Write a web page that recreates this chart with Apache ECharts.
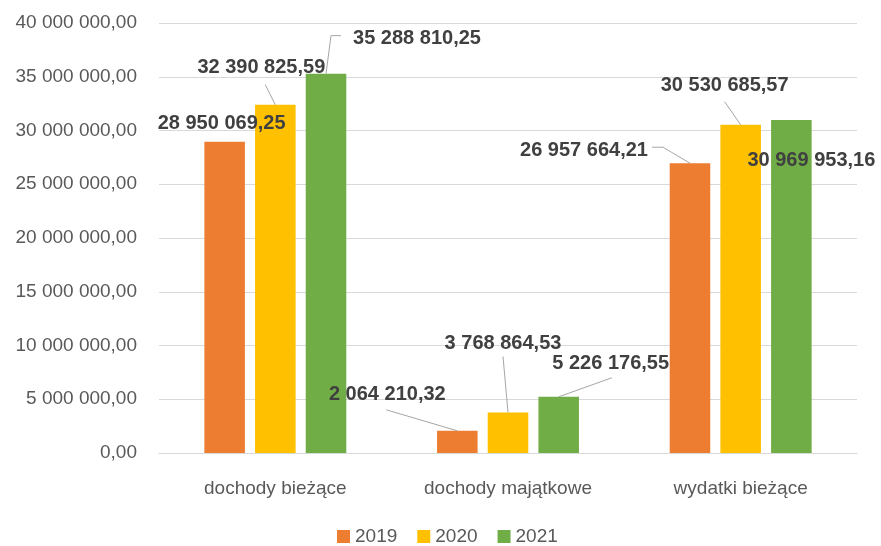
<!DOCTYPE html>
<html>
<head>
<meta charset="utf-8">
<script src="https://cdn.jsdelivr.net/npm/echarts@6/dist/echarts.min.js"></script>
<style>
html,body{margin:0;padding:0;background:#fff;}
#chart{width:881px;height:546px;}
</style>
</head>
<body>
<div id="chart"></div>
<script>
var categories = ['dochody bieżące', 'dochody majątkowe', 'wydatki bieżące'];
var seriesNames = ['2019', '2020', '2021'];
var values2019 = [28950069.25, 2064210.32, 26957664.21];
var values2020 = [32390825.59, 3768864.53, 30530685.57];
var values2021 = [35288810.25, 5226176.55, 30969953.16];
var yTicks = [0, 5000000, 10000000, 15000000, 20000000, 25000000, 30000000, 35000000, 40000000];

function fmt(v) {
  var s = v.toFixed(2).split('.');
  var intPart = s[0].replace(/\B(?=(\d{3})+(?!\d))/g, ' ');
  return intPart + ',' + s[1];
}

var BAR_GAP = 0.25, CAT_GAP = 0.39;

// label offsets relative to default "top" label position [seriesIndex][dataIndex]
var labelOffsets = [
  [[-3, -3], [-70, -21], [-106, 2]],
  [[-14, -22], [-5, -54], [-16, -24]],
  [[91, -20], [52, -18], [20, 55]]
];
// leader line bends, relative to the top centre of each bar [seriesIndex][dataIndex]
var leaderLines = [
  [null, [[-71, -21]], [[-27, -16], [-38, -16]]],
  [[[-10, -20]], [[-5, -56]], [[-16, -23]]],
  [[[5, -38], [15, -38]], [[53, -19]], null]
];

var colors = ['#ED7D31', '#FFC000', '#70AD47'];
var allValues = [values2019, values2020, values2021];

var series = allValues.map(function (vals, si) {
  return {
    name: seriesNames[si],
    type: 'bar',
    barGap: (BAR_GAP * 100) + '%',
    barCategoryGap: (CAT_GAP * 100) + '%',
    itemStyle: { color: colors[si] },
    data: vals,
    z: 2,
    label: {
      show: true,
      position: 'top',
      distance: 5,
      color: '#404040',
      fontWeight: 'bold',
      fontSize: 20,
      fontFamily: 'Liberation Sans',
      formatter: function (p) { return fmt(p.value); }
    },
    labelLayout: function (params) {
      var o = labelOffsets[params.seriesIndex][params.dataIndex];
      return { dx: o[0], dy: o[1] };
    }
  };
});

// leader lines drawn from the bar tops through the axis scales
var leaderData = [];
allValues.forEach(function (vals, si) {
  vals.forEach(function (v, di) {
    if (leaderLines[si][di]) leaderData.push([di, v, si]);
  });
});
series.push({
  type: 'custom',
  name: 'leaders',
  silent: true,
  z: 3,
  data: leaderData,
  encode: { x: 0, y: 1 },
  renderItem: function (params, api) {
    var di = api.value(0), v = api.value(1), si = api.value(2);
    var band = api.size([1, 0])[0];
    var n = 3;
    var w = band * (1 - CAT_GAP) / (n + (n - 1) * BAR_GAP);
    var total = n * w + (n - 1) * w * BAR_GAP;
    var c = api.coord([di, v]);
    var bx = c[0] - total / 2 + si * w * (1 + BAR_GAP) + w / 2;
    var by = c[1];
    var pts = [[bx, by]];
    leaderLines[si][di].forEach(function (p) { pts.push([bx + p[0], by + p[1]]); });
    return {
      type: 'polyline',
      shape: { points: pts },
      style: { stroke: '#a6a6a6', lineWidth: 1, fill: null }
    };
  }
});

var chart = echarts.init(document.getElementById('chart'));
chart.setOption({
  animation: false,
  backgroundColor: '#ffffff',
  textStyle: { fontFamily: 'Liberation Sans' },
  grid: { left: 159, right: 24, top: 23, bottom: 93, containLabel: false },
  legend: {
    bottom: 0,
    left: 337,
    padding: 0,
    icon: 'rect',
    itemWidth: 13,
    itemHeight: 13,
    itemGap: 20,
    textStyle: { color: '#595959', fontSize: 19, fontFamily: 'Liberation Sans' },
    data: seriesNames
  },
  xAxis: {
    type: 'category',
    data: categories,
    axisTick: { show: false },
    axisLine: { lineStyle: { color: '#d9d9d9' } },
    axisLabel: { color: '#595959', fontSize: 19, margin: 26 }
  },
  yAxis: {
    type: 'value',
    min: yTicks[0],
    max: yTicks[yTicks.length - 1],
    interval: yTicks[1] - yTicks[0],
    axisLine: { show: false },
    axisTick: { show: false },
    splitLine: { lineStyle: { color: '#d9d9d9' } },
    axisLabel: { color: '#595959', fontSize: 19, margin: 22, formatter: function (v) { return fmt(v); } }
  },
  series: series
});
</script>
</body>
</html>
